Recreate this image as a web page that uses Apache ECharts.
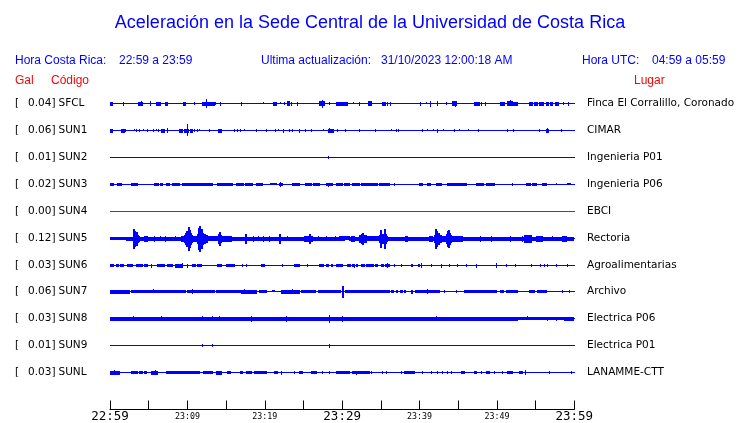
<!DOCTYPE html>
<html><head><meta charset="utf-8">
<script src="https://cdn.jsdelivr.net/npm/echarts@6/dist/echarts.min.js"></script>
<style>html,body{margin:0;padding:0;background:#fff}#c{width:740px;height:423px}</style>
</head><body><div id="c"></div><script>
// ---------------- DATA ----------------
const stations = ['SFCL','SUN1','SUN2','SUN3','SUN4','SUN5','SUN6','SUN7','SUN8','SUN9','SUNL'];
const peakGal  = ['0.04','0.06','0.01','0.02','0.00','0.12','0.03','0.06','0.03','0.01','0.03'];
const places   = ['Finca El Corralillo, Coronado','CIMAR','Ingenieria P01','Ingenieria P06','EBCI','Rectoria','Agroalimentarias','Archivo','Electrica P06','Electrica P01','LANAMME-CTT'];
const timeTicks  = [0,10,20,30,40,50,60];          // minutes after 22:59
const timeLabels = ['22:59','23:09','23:19','23:29','23:39','23:49','23:59'];
const majorTicks = [0,30,60];
// envelope bursts per station: [start minute, end minute, half amplitude]
const sfcl = [[0,0.26,2],[1.72,1.72,2],[3.74,4.26,2],[4.13,4.13,2.5],[5.29,5.29,2.5],[6.06,6.54,2],[7.23,7.48,2],[9.55,9.76,2],[10.97,10.97,1.5],[11.91,12.69,2],[12.48,12.48,4.3],[12.9,13.55,2],[13.68,13.68,1.5],[14.28,14.28,2],[16.99,16.99,2],[19.87,19.87,1.2],[21.16,21.55,2],[22.06,22.06,1.2],[22.58,22.58,1.5],[22.97,23.23,2.5],[23.48,23.48,2],[24.26,24.26,2],[27.1,27.66,2.5],[27.44,27.44,4],[28.39,28.39,1.5],[29.29,29.94,2],[29.68,30.75,2],[31.45,31.45,1.2],[32.26,32.26,2],[33.42,33.81,2.5],[35.19,35.61,2],[35.91,35.91,2],[36.22,36.22,2],[40.09,40.09,2],[40.87,40.87,1.2],[41.38,41.38,3],[42.29,42.29,2.5],[43.45,43.45,1.5],[44.22,44.81,2.5],[44.6,44.6,3],[47.1,47.74,2],[48.04,48.04,2],[48.48,48.48,2],[50.45,51.01,2],[51.4,51.96,2.5],[51.7,51.7,3.2],[52.17,52.69,2],[54.19,54.54,2],[54.84,55.19,2],[55.48,56.04,2],[56.39,56.65,2],[56.9,57.2,2],[57.55,57.98,2],[58.58,58.58,1.5],[59.23,59.23,2]];
const sun1 = [[0,0.3,2],[1.51,1.85,2],[2.06,2.06,1.5],[3.14,3.14,1.2],[3.44,3.44,1.5],[3.87,3.87,1.5],[4.3,4.3,1.2],[4.81,4.81,1.5],[5.59,5.59,1.5],[6.02,6.02,1.2],[6.32,6.32,1.5],[6.67,7.1,2],[7.45,7.45,2.5],[9.03,9.33,2],[9.68,10.11,2],[9.98,9.98,6.2],[10.45,10.71,2],[10.97,10.97,1.5],[11.27,11.27,1.5],[11.53,11.53,1.2],[12.82,12.82,1.5],[14.06,14.41,2],[16.04,16.04,1.5],[16.48,16.48,1.5],[16.82,16.82,1.5],[17.42,17.42,1.2],[18.93,18.93,1.5],[20.22,20.22,1.5],[21.38,21.38,1.5],[21.72,21.72,1.2],[22.45,22.45,2],[23.14,23.14,1.5],[23.52,23.52,1.5],[24.48,24.48,2],[25.25,25.25,1.5],[26.02,26.02,1.5],[27.53,27.53,1.2],[28.26,28.9,2],[28.39,28.39,2.6],[29.4,29.4,1.5],[30.45,30.45,1.5],[32.26,32.26,1.5],[34.32,34.32,1.5],[36.43,36.43,1.2],[37.0,37.0,1.5],[37.33,37.33,1.5],[40.43,40.43,1.5],[41.07,41.07,1.2],[41.85,41.85,1.2],[42.28,42.28,2],[43.14,43.14,1.2],[44.52,44.52,1.5],[45.16,45.16,1.2],[46.36,46.36,1.2],[47.65,47.65,1.5],[51.4,51.4,1.5],[52.17,52.17,1.5],[55.48,55.48,1.5],[56.43,56.69,2],[56.56,56.56,2.5],[58.41,58.41,1.5]];
const sun2 = [[28.3,28.3,1.5]];
const sun3 = [[0,0.39,1.5],[1.03,1.55,1.5],[2.84,3.2,1.5],[3.35,3.61,1.5],[5.81,6.3,1.5],[6.5,6.84,1.5],[7.35,7.74,1.5],[8.13,9.03,1.5],[9.42,10.6,1.5],[10.8,12.3,1.5],[12.5,13.29,1.5],[13.94,14.9,1.5],[15.1,15.87,1.5],[16.39,17.3,1.5],[17.5,18.45,1.5],[18.97,19.74,1.5],[20.77,21.55,1.2],[21.94,22.32,1.5],[22.06,22.06,2.5],[23.61,24.52,1.5],[25.29,26.1,1.5],[26.3,27.1,1.5],[28.0,28.77,1.5],[28.26,28.26,2],[29.29,30.1,1.5],[30.3,30.97,1.5],[31.35,32.26,1.5],[32.52,33.55,1.5],[33.55,34.6,1.5],[34.8,36.13,1.5],[36.77,36.77,1.5],[40.0,40.4,1.5],[41.0,41.4,1.5],[42.2,42.84,1.5],[43.61,44.6,1.5],[44.8,46.06,1.5],[47.35,48.3,1.5],[48.6,49.68,1.5],[52.0,52.0,1.5],[53.81,54.3,1.5],[54.6,55.1,1.5],[55.87,56.39,1.5],[57.68,57.68,1.2],[59.1,59.48,1.2]];
const sun4 = [];
const sun5 = [[0,0.9,1.5],[0.9,2.19,1.7],[2.19,3.0,2],[3.0,3.1,4],[3.1,3.23,10],[3.23,3.35,8],[3.35,3.48,6],[3.48,3.61,7],[3.61,3.74,4],[3.74,3.87,3],[3.87,4.52,2],[4.52,4.9,3],[4.9,9.29,2],[5.7,5.7,3],[6.5,6.5,2.5],[7.2,7.2,3],[8.4,8.4,2.5],[9.29,9.6,3],[9.6,9.8,4],[9.8,9.94,6],[9.94,10.06,8],[10.06,10.19,5],[10.19,10.32,12],[10.32,10.45,9],[10.45,10.58,6],[10.58,10.71,4],[10.71,11.35,3],[11.35,11.48,5],[11.48,11.61,11],[11.61,11.74,13],[11.74,11.87,8],[11.87,12.0,10],[12.0,12.13,6],[12.13,12.39,5],[12.39,12.65,4],[12.65,13.94,2.5],[14.06,14.19,5],[14.19,14.32,7],[14.32,14.45,4],[14.45,15.74,3],[15.74,17.42,2],[17.55,17.68,5],[17.68,21.68,2],[18.5,18.5,3],[19.2,19.2,2.5],[19.8,19.8,3],[20.6,20.6,3],[21.94,22.06,5],[21.68,25.16,2],[23.0,23.0,2.5],[25.16,26.19,3],[25.81,25.94,5],[26.19,30.3,2],[27,27,2.5],[28,28,2.5],[29.2,29.2,2.5],[29.68,30.97,2.2],[30.97,33.29,2],[31.23,31.61,3],[32.26,32.52,4],[32.52,32.65,5],[32.65,32.78,6],[32.78,33.1,4],[33.29,34.84,2.5],[34.84,35.0,4],[35.0,35.13,9],[35.13,35.35,5],[35.35,35.48,4],[35.48,35.61,10],[35.61,35.74,5],[35.74,35.9,3],[35.9,38.19,2],[38.19,38.45,3],[38.45,41.29,2],[41.29,41.68,3],[41.68,41.9,2],[41.9,42.06,4],[42.06,42.19,10],[42.19,42.32,8],[42.32,42.58,6],[42.58,42.84,4],[42.84,43.23,3],[43.23,43.48,3],[43.48,43.61,5],[43.61,43.74,8],[43.74,43.87,9],[43.87,44.0,6],[44.0,44.13,4],[44.13,45.55,3],[45.55,59.87,2],[47.87,47.87,3],[49.29,49.29,3],[51.74,51.74,3],[53.29,53.29,3],[53.55,54.45,4],[55.1,55.87,3],[57.16,57.16,2.5],[58.45,58.97,3]];
const sun6 = [[0,0.4,1.5],[0.8,1.1,1.5],[1.4,1.7,1.5],[2.32,2.97,1.5],[3.48,4.2,1.5],[4.5,4.9,1.5],[5.42,5.42,2],[6.19,7.1,1.5],[7.4,8.13,1.5],[8.4,9.2,2],[9.42,9.42,2.5],[10.06,10.06,2],[10.71,11.0,1.5],[11.3,11.87,1.5],[13.94,14.45,1.5],[15.1,16.13,1.5],[17.16,17.16,1.5],[17.68,17.68,1.5],[19.61,20.0,1.5],[22.32,22.32,1.5],[23.87,24.52,1.5],[25.55,25.55,1.5],[27.1,27.6,1.5],[28.0,28.3,1.5],[28.6,28.77,1.5],[29.29,29.6,1.5],[29.8,30.06,1.5],[30.71,31.1,1.5],[31.4,31.61,1.5],[31.61,31.61,2],[31.8,32.0,1.5],[32.52,32.9,1.5],[33.2,33.55,1.5],[33.7,34.0,1.5],[34.3,34.58,1.5],[35.1,35.4,1.5],[35.6,36.13,1.5],[35.87,35.87,2.5],[36.77,36.77,1.5],[37.68,37.68,1.5],[38.97,39.1,1.5],[39.87,40.0,1.5],[40.2,40.2,2.5],[41.55,41.55,1.5],[42.84,42.84,2],[43.87,43.87,1.5],[44.9,44.9,1.5],[46.06,46.06,1.5],[47.35,47.35,2],[49.94,49.94,2.5],[51.23,51.23,1.5],[52.39,52.39,1.5],[54.45,54.45,1.5],[55.61,55.61,1.5],[56.13,56.13,1.5],[56.52,56.52,1.5],[57.68,57.68,1.5],[59.1,59.1,1.5]];
const sun7 = [[0,2.5,2],[2.8,5.5,1.7],[5.68,5.68,2.2],[5.8,9.8,1.7],[10.0,13.5,1.7],[10.71,10.71,2.5],[13.8,16.8,1.7],[17.03,18.97,2],[17.42,17.42,2.2],[19.35,20.26,1.5],[21.0,21.3,1.2],[22.19,24.52,2],[23.61,23.61,2.2],[24.77,26.5,1.7],[26.9,29.8,1.7],[30.06,30.19,6],[30.45,33.55,1.7],[33.55,36.13,1.7],[36.4,36.6,1.5],[37.0,37.2,1.5],[37.6,37.8,1.5],[38.1,38.2,1.5],[38.9,39.1,2],[39.5,42.6,1.7],[41.03,41.03,2.5],[43.23,43.23,1.5],[44.77,44.77,1.5],[45.81,49.94,1.7],[50.4,50.8,1.5],[51.2,51.5,1.5],[51.6,52.7,1.7],[54.19,54.84,1.5],[55.23,56.39,1.7],[58.45,58.45,1.5],[59.35,59.35,1.5]];
const sun8 = [[0,52.65,2],[52.65,58.71,1.7],[58.71,59.87,2],[3.0,3.0,2.7],[6.67,6.67,2.7],[12.0,12.0,2.7],[13.29,13.29,2.7],[14.19,14.19,2.7],[18.28,18.28,3],[22.8,22.8,3],[28.39,28.39,4],[30.1,30.1,3],[42.19,42.19,2.5],[53.94,53.94,2.2],[56.5,56.5,2],[57.7,57.7,2]];
const sun9 = [[12.0,12.0,1.5],[13.29,13.29,1.5],[28.39,28.39,2]];
const sunl = [[0,1.29,2],[0.6,0.6,2.5],[2.84,3.5,1.7],[3.8,4.2,1.7],[4.4,4.77,1.7],[5.42,6.19,2],[5.94,5.94,2.5],[7.35,8.3,1.7],[8.5,11.61,1.7],[12.13,13.29,1.7],[13.81,14.45,2],[15.23,15.61,1.7],[16.9,17.16,1.5],[17.68,18.32,1.7],[18.71,20.26,1.7],[21.29,21.68,1.5],[22.19,22.19,2],[23.87,23.87,1.5],[24.52,24.9,1.7],[26.06,26.71,1.7],[27.48,27.48,1.5],[28.39,28.39,1.7],[29.29,30.97,1.7],[31.35,33.55,1.7],[31.8,31.8,2],[33.81,33.81,1.5],[35.23,35.23,1.5],[35.74,35.74,1.5],[37.68,37.68,1.5],[38.06,39.35,1.7],[40.39,40.39,1.5],[41.55,41.55,1.5],[42.32,42.32,1.5],[42.97,42.97,1.5],[43.61,43.61,1.5],[44.13,44.13,1.5],[45.42,45.81,1.7],[47.1,47.35,1.7],[48.0,48.0,1.5],[48.65,49.03,1.7],[49.68,49.68,1.5],[50.71,50.71,1.5],[51.35,52.0,1.7],[52.9,53.29,1.5],[53.68,53.68,2.5],[56.77,56.77,1.7],[59.61,59.61,1.5]];
const traces = [sfcl,sun1,sun2,sun3,sun4,sun5,sun6,sun7,sun8,sun9,sunl];

// ---------------- LAYOUT / STYLE ----------------
const BLUE = '#0000ff', RED = '#ff0000';
const ROW0 = 103.2, ROWSTEP = 26.97;
const rowCenter = i => ROW0 + ROWSTEP * i;
const traceColor = name => name === 'SUN4' ? RED : BLUE;
const LBL_FONT = '10.5px "DejaVu Sans"';
const GRID_L = 110, GRID_R = 740 - 574.3;

const chart = echarts.init(document.getElementById('c'), null, {renderer:'canvas'});

function baseSeries() {
  return {
    type:'custom', xAxisIndex:0, yAxisIndex:0, clip:false, silent:true,
    data: stations.map((s,i)=>[0, rowCenter(i), i]),
    encode:{x:0, y:1},
    renderItem(params, api) {
      const i = api.value(2);
      const p0 = api.coord([0, rowCenter(i)]);
      const p1 = api.coord([60, rowCenter(i)]);
      const yc = Math.floor(p0[1]) + 0.5;
      const name = stations[i];
      const ts = (t, x, align) => ({type:'text', x:x, y:yc, style:{text:t, fill:'#000', font:LBL_FONT, align:align, verticalAlign:'middle', textAlign:align, textVerticalAlign:'middle'}});
      return {type:'group', children:[
        {type:'line', shape:{x1:Math.round(p0[0]), y1:yc, x2:Math.round(p1[0])+1, y2:yc}, style:{stroke:traceColor(name), lineWidth:1}},
        ts('[', 15, 'left'),
        ts(peakGal[i] + ']', 55.5, 'right'),
        ts(name, 58.5, 'left'),
        ts(places[i], 587, 'left')
      ]};
    }
  };
}
function traceSeries(i) {
  const color = traceColor(stations[i]);
  return {
    type:'custom', xAxisIndex:0, yAxisIndex:0, clip:false, silent:true,
    data: traces[i], encode:{x:[0,1], y:2},
    renderItem(params, api) {
      const t0 = api.value(0), t1 = api.value(1), a = api.value(2);
      const p0 = api.coord([t0, rowCenter(i)]);
      const p1 = api.coord([t1, rowCenter(i)]);
      const yc = Math.floor(p0[1]) + 0.5;
      const h = api.size([0, a])[1];
      const x0 = Math.floor(p0[0]);
      const x1 = Math.max(x0 + 1, Math.ceil(p1[0]));
      const y0 = Math.round(yc - h);
      const hh = Math.max(1, Math.round(2 * h));
      return {type:'rect', shape:{x:x0, y:y0, width:x1-x0, height:hh}, style:{fill:color}};
    }
  };
}

const labelFor = v => {
  const k = timeTicks.indexOf(v);
  if (k < 0) return '';
  return (majorTicks.indexOf(v) >= 0 ? '{b|' : '{s|') + timeLabels[k] + '}';
};

const hdrFont = '12px "Liberation Sans"';
const hdr = (text, x, y, fill) => ({type:'text', x:x, y:y, style:{text:text, font:hdrFont, fill:fill, verticalAlign:'middle', textVerticalAlign:'middle'}});
const option = {
  animation:false,
  backgroundColor:'#fff',
  grid:[
    {left:GRID_L, right:GRID_R, top:0, height:423},
    {left:GRID_L, right:GRID_R, top:300, bottom:423-409.5}
  ],
  xAxis:[
    {gridIndex:0, type:'value', min:0, max:60, show:false},
    {gridIndex:1, type:'value', min:0, max:60, interval:5,
     axisLine:{lineStyle:{color:'#000', width:1}},
     axisTick:{inside:true, length:9, lineStyle:{color:'#000', width:1}},
     splitLine:{show:false},
     axisLabel:{margin:1, formatter:labelFor, showMinLabel:true, showMaxLabel:true,
       rich:{b:{fontFamily:'DejaVu Sans Mono', fontSize:12.5, lineHeight:12, color:'#000'},
             s:{fontFamily:'DejaVu Sans Mono', fontSize:8.3, lineHeight:12, color:'#000'}}}
    }
  ],
  yAxis:[
    {gridIndex:0, type:'value', min:0, max:423, inverse:true, show:false},
    {gridIndex:1, type:'value', show:false}
  ],
  graphic:[
    {type:'text', left:'center', top:14, style:{text:'Aceleración en la Sede Central de la Universidad de Costa Rica', font:'18px "Liberation Sans"', fill:BLUE}},
    hdr('Hora Costa Rica:', 15, 61, BLUE),
    hdr('22:59 a 23:59', 119, 61, BLUE),
    hdr('Ultima actualización:', 261, 61, BLUE),
    hdr('31/10/2023 12:00:18 AM', 381, 61, BLUE),
    hdr('Hora UTC:', 582, 61, BLUE),
    hdr('04:59 a 05:59', 652, 61, BLUE),
    hdr('Gal', 15, 81, RED),
    hdr('Código', 51, 81, RED),
    hdr('Lugar', 634, 81, RED)
  ],
  series:[baseSeries()].concat(stations.map((s,i)=>traceSeries(i)))
};
chart.setOption(option);
</script></body></html>
